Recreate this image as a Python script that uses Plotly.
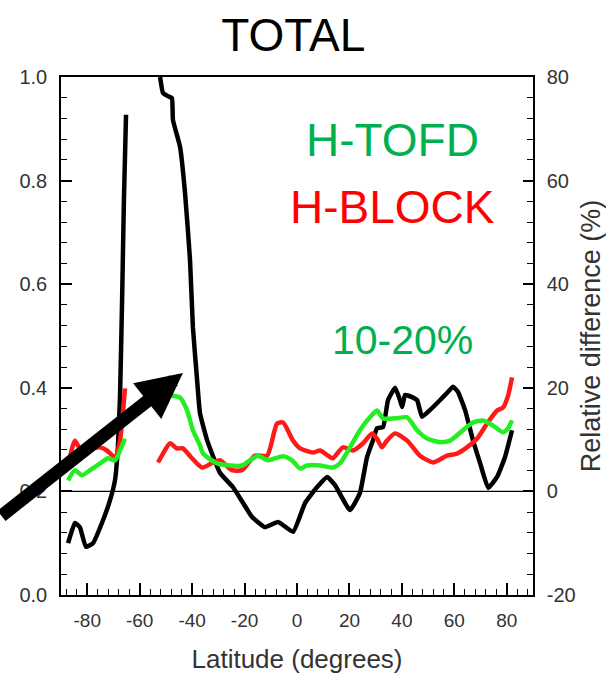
import plotly.graph_objects as go

# ---- Data -----------------------------------------------------------------
# TOTAL (left axis, 0-1); None marks the data gap over Antarctica
total_lat = [-87.3, -84.7, -82.8, -80.5, -77.8, -74.4, -71.3, -69.4, -68.3, -67.5,
             -66.7, -66.0, -65.2, None,
             -52.2, -51.1, -49.2, -47.7, -47.3, -44.6, -42.7, -40.8, -39.7, -38.1,
             -37.0, -34.3, -29.4, -24.4, -20.6, -17.2, -12.2, -7.2, -1.5, 3.1,
             7.6, 11.5, 14.5, 20.2, 24.0, 26.7, 29.0, 30.5, 32.8, 34.7,
             37.4, 39.3, 40.1, 41.2, 43.9, 45.8, 47.7, 50.7, 54.5, 57.2,
             59.5, 61.4, 64.1, 67.1, 69.8, 72.9, 76.3, 79.3, 82.0]
total_val = [0.100, 0.139, 0.131, 0.093, 0.100, 0.139, 0.183, 0.222, 0.286, 0.382,
             0.570, 0.763, 0.927, None,
             1.000, 0.969, 0.963, 0.959, 0.917, 0.865, 0.776, 0.647, 0.517, 0.415,
             0.351, 0.299, 0.236, 0.208, 0.178, 0.151, 0.131, 0.141, 0.122, 0.178,
             0.208, 0.228, 0.212, 0.164, 0.197, 0.266, 0.299, 0.322, 0.324, 0.376,
             0.400, 0.376, 0.363, 0.386, 0.382, 0.376, 0.344, 0.357, 0.376, 0.390,
             0.402, 0.392, 0.357, 0.299, 0.255, 0.207, 0.228, 0.266, 0.318]

# H-BLOCK relative difference (%)
block_lat = [-87.3, -84.7, -82.8, -78.9, -75.1, -72.5, -69.4, -67.5, -66.4, -65.6, None,
             -53.0, -51.1, -48.4, -45.8, -43.5, -40.4, -36.2, -32.0, -29.4, -24.8,
             -21.0, -16.0, -11.4, -7.6, -5.3, -1.5, 1.2, 6.1, 8.8, 11.8,
             13.7, 17.5, 21.4, 25.2, 28.6, 30.5, 32.4, 34.3, 37.4, 42.0,
             44.2, 46.9, 51.9, 57.2, 61.0, 64.8, 68.7, 72.5, 76.3, 78.6,
             80.5, 82.0]
block_pct = [5.0, 9.8, 8.3, 8.3, 8.5, 7.9, 6.6, 9.8, 15.1, 19.9, None,
             5.6, 7.3, 9.3, 8.3, 8.3, 6.6, 4.6, 5.6, 6.0, 4.1,
             4.1, 6.9, 6.9, 13.1, 13.3, 9.8, 8.3, 7.5, 7.9, 6.9,
             6.4, 8.5, 7.9, 9.3, 11.2, 10.2, 8.5, 9.8, 11.2, 9.8,
             8.5, 6.9, 5.6, 6.9, 7.3, 8.5, 10.2, 13.1, 15.6, 16.2,
             18.5, 22.0]

# H-TOFD relative difference (%)
tofd_lat = [-87.3, -84.7, -82.0, -78.9, -75.1, -72.1, -69.4, -67.5, -65.6, None,
            -48.4, -44.6, -41.9, -39.7, -37.0, -35.8, -30.5, -25.5, -21.0, -17.9,
            -14.9, -11.1, -5.3, -1.9, 1.2, 3.8, 8.8, 13.7, 16.4, 20.2,
            24.0, 27.8, 30.5, 32.8, 37.4, 42.0, 45.8, 49.6, 54.5, 58.4,
            63.3, 67.1, 71.0, 74.8, 78.6, 80.5, 82.0]
tofd_pct = [2.1, 4.1, 3.1, 4.1, 5.4, 6.4, 6.0, 7.9, 10.2, None,
            18.5, 18.1, 15.6, 11.8, 8.9, 7.3, 5.4, 5.0, 5.0, 6.0,
            6.9, 6.0, 6.8, 6.0, 4.4, 5.0, 5.0, 4.6, 5.4, 8.5,
            11.8, 14.3, 15.6, 14.1, 14.1, 14.3, 11.8, 10.2, 9.5, 9.8,
            11.8, 13.3, 13.7, 12.7, 11.4, 12.2, 13.7]

x_ticks = [-80, -60, -40, -20, 0, 20, 40, 60, 80]
x_labels = ["-80", "-60", "-40", "-20", "0", "20", "40", "60", "80"]
left_ticks = [0.0, 0.2, 0.4, 0.6, 0.8, 1.0]
left_labels = ["0.0", "0.2", "0.4", "0.6", "0.8", "1.0"]
right_ticks = [-20, 0, 20, 40, 60, 80]
right_labels = ["-20", "0", "20", "40", "60", "80"]

FONT = "Liberation Sans, Arial, Helvetica, sans-serif"
GREY = "#333333"

fig = go.Figure()

fig.add_trace(go.Scatter(x=block_lat, y=block_pct, yaxis="y2", mode="lines",
                         line=dict(color="#ff1a1a", width=4.5, shape="spline", smoothing=0.6),
                         connectgaps=False, name="H-BLOCK", hoverinfo="skip"))
fig.add_trace(go.Scatter(x=tofd_lat, y=tofd_pct, yaxis="y2", mode="lines",
                         line=dict(color="#22ee22", width=4.5, shape="spline", smoothing=0.6),
                         connectgaps=False, name="H-TOFD", hoverinfo="skip"))
fig.add_trace(go.Scatter(x=total_lat, y=total_val, mode="lines",
                         line=dict(color="black", width=4.5, shape="spline", smoothing=0.4),
                         connectgaps=False, name="TOTAL", hoverinfo="skip"))

# zero line of the relative difference axis
fig.add_shape(type="line", xref="paper", x0=0, x1=1, yref="y2", y0=0, y1=0,
              line=dict(color="black", width=1.2), layer="below")

fig.update_layout(
    width=606, height=675,
    margin=dict(l=61, r=73, t=77, b=80, autoexpand=False),
    plot_bgcolor="white", paper_bgcolor="white",
    showlegend=False,
    font=dict(family=FONT, color=GREY),
    title=dict(text="TOTAL", font=dict(family=FONT, size=46, color="black"),
               x=0.492, xanchor="center", xref="paper",
               y=1 - 35 / 675, yanchor="middle", yref="container"),
    xaxis=dict(range=[-90, 90], tickvals=x_ticks, ticktext=x_labels,
               ticks="inside", ticklen=12, tickwidth=2, tickcolor="black",
               minor=dict(dtick=4, tick0=0, ticks="inside", ticklen=6, tickwidth=1.2,
                          tickcolor="black"),
               showline=True, linecolor="black", linewidth=1.5, mirror=True,
               showgrid=False, zeroline=False, automargin=False,
               tickfont=dict(size=19, color=GREY), ticklabelstandoff=7,
               title=dict(text="Latitude (degrees)", font=dict(size=26, color=GREY),
                          standoff=20)),
    yaxis=dict(range=[0, 1], tickvals=left_ticks, ticktext=left_labels,
               ticks="inside", ticklen=11, tickwidth=2, tickcolor="black",
               minor=dict(dtick=0.04, tick0=0, ticks="inside", ticklen=6, tickwidth=1.2,
                          tickcolor="black"),
               showline=True, linecolor="black", linewidth=1.5,
               showgrid=False, zeroline=False, automargin=False,
               tickfont=dict(size=20, color=GREY), ticklabelstandoff=8),
    yaxis2=dict(range=[-20, 80], tickvals=right_ticks, ticktext=right_labels,
                overlaying="y", side="right",
                ticks="inside", ticklen=10, tickwidth=2, tickcolor="black",
                minor=dict(dtick=4, tick0=0, ticks="inside", ticklen=6, tickwidth=1.2,
                           tickcolor="black"),
                showline=True, linecolor="black", linewidth=1.5,
                showgrid=False, zeroline=False, automargin=False,
                tickfont=dict(size=20, color=GREY), ticklabelstandoff=8,
                title=dict(text="Relative difference (%)",
                           font=dict(size=27, color=GREY), standoff=6)),
)


# in-figure labels (positions in pixels converted to paper coordinates)
def px_to_paper(px, py):
    pw, ph = 606 - 61 - 73, 675 - 77 - 80
    return (px - 61) / pw, (595 - py) / ph


for txt, (cx, cy), col, size in [("H-TOFD", (392, 140), "#00b050", 46),
                                 ("H-BLOCK", (392, 207), "#ff0000", 46),
                                 ("10-20%", (402, 340), "#00b050", 41)]:
    ax_, ay_ = px_to_paper(cx, cy)
    fig.add_annotation(x=ax_, y=ay_, xref="paper", yref="paper", text=txt,
                       showarrow=False, xanchor="center", yanchor="middle",
                       font=dict(size=size, color=col, family=FONT))

# arrow pointing at the southern-hemisphere peak
fig.add_annotation(x=-43.5, y=0.4286, xref="x", yref="y", text="",
                   showarrow=True, arrowhead=2, arrowsize=0.7, arrowwidth=13,
                   arrowcolor="black", ax=-193, ay=144, axref="pixel", ayref="pixel")

fig.write_html("out.html")
